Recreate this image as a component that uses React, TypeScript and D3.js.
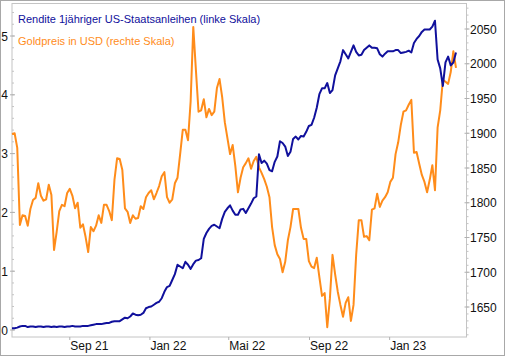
import React from "react";
import * as d3 from "d3";

// ---- data ----
const START_DATE = "2021-06-05";
const STEP_DAYS = 4;

const goldUSD = [
  1899, 1900, 1879, 1768, 1782, 1781, 1767, 1791, 1804, 1807, 1828, 1810, 1803, 1805, 1826, 1811, 1732, 1758, 1788, 1797,
  1795, 1814, 1820, 1810, 1792, 1800, 1764, 1769, 1751, 1729, 1765, 1759, 1767, 1782, 1771, 1797, 1797, 1788, 1775, 1833,
  1864, 1863, 1847, 1792, 1787, 1771, 1782, 1777, 1778, 1795, 1791, 1808, 1814, 1818, 1805, 1814, 1824, 1838, 1844, 1808,
  1800, 1805, 1828, 1836, 1870, 1905, 1905, 1890, 1946, 2053, 1991, 1931, 1933, 1949, 1923, 1935, 1926, 1931, 1965, 1978,
  1952, 1916, 1893, 1870, 1883, 1853, 1815, 1836, 1851, 1857, 1864, 1849, 1860, 1866, 1851, 1843, 1834, 1823, 1808, 1765,
  1739, 1726, 1719, 1700, 1715, 1746, 1765, 1791, 1791, 1791, 1764, 1748, 1748, 1716, 1708, 1706, 1721, 1693, 1666, 1670,
  1621, 1662, 1725, 1697, 1672, 1653, 1636, 1656, 1664, 1630, 1653, 1725, 1775, 1775, 1751, 1752, 1746, 1790, 1792, 1813,
  1794, 1803, 1808, 1815, 1830, 1836, 1870, 1887, 1912, 1931, 1933, 1941, 1948, 1872, 1873, 1856, 1840, 1830, 1815, 1833,
  1854, 1818, 1908, 1933, 1977, 1974, 1971, 1988, 2018, 1994,
];

const yield1Y = [
  0.03, 0.03, 0.04, 0.06, 0.07, 0.07, 0.05, 0.06, 0.06, 0.05, 0.06, 0.06, 0.05, 0.06, 0.06, 0.05, 0.06, 0.05, 0.06, 0.06,
  0.05, 0.06, 0.06, 0.07, 0.06, 0.06, 0.06, 0.07, 0.07, 0.07, 0.08, 0.09, 0.1, 0.1, 0.1, 0.11, 0.12, 0.12, 0.14, 0.15,
  0.15, 0.15, 0.18, 0.21, 0.2, 0.23, 0.28, 0.26, 0.25, 0.26, 0.29, 0.37, 0.39, 0.4, 0.43, 0.46, 0.48, 0.54, 0.65, 0.73,
  0.75, 0.85, 0.95, 1.11, 1.08, 1.05, 1.16, 1.11, 1.04, 1.12, 1.18, 1.19, 1.22, 1.55, 1.65, 1.72, 1.77, 1.79, 1.76, 1.73,
  1.89, 2.01, 2.07, 2.12, 2.03, 1.96, 1.96, 2.05, 2.06, 1.99, 2.07, 2.15, 2.24, 2.27, 2.99, 2.84, 2.88, 2.83, 2.72, 2.7,
  2.86, 2.95, 3.21, 3.18, 3.12, 2.96, 3.03, 3.25, 3.29, 3.24, 3.3, 3.29, 3.37, 3.47, 3.49, 3.61, 3.78, 4.01, 4.11, 4.11,
  4.2, 4.03, 4.08, 4.33, 4.45, 4.57, 4.76, 4.69, 4.62, 4.73, 4.84, 4.73, 4.67, 4.68, 4.76, 4.8, 4.84, 4.8, 4.8, 4.79,
  4.69, 4.65, 4.7, 4.74, 4.74, 4.74, 4.76, 4.76, 4.71, 4.72, 4.73, 4.75, 4.72, 4.88, 4.95, 5.0, 5.07, 5.11, 5.11, 5.11,
  5.16, 5.26, 4.6, 4.45, 4.15, 4.55, 4.65, 4.5, 4.55, 4.72,
];

const xTickDates = ["2021-09-01", "2022-01-01", "2022-05-01", "2022-09-01", "2023-01-01"];
const xTickLabels = ["Sep 21", "Jan 22", "Mai 22", "Sep 22", "Jan 23"];
const leftTicks = [0, 1, 2, 3, 4, 5];
const rightTicks = [1650, 1700, 1750, 1800, 1850, 1900, 1950, 2000, 2050];
const legendLabels = ["Rendite 1jähriger US-Staatsanleihen (linke Skala)", "Goldpreis in USD (rechte Skala)"];

const BLUE = "#10109c";
const ORANGE = "#ff8c1a";
const FONT = "'Liberation Sans', Arial, sans-serif";

export default function App() {
  const W = 506, H = 357;
  const L = 12, R = 466.5, T = 3.5, B = 337;
  const parse = d3.timeParse("%Y-%m-%d");
  const start = parse(START_DATE) as Date;
  const dates = goldUSD.map((_, i) => d3.timeDay.offset(start, i * STEP_DAYS));

  const x = d3.scaleTime().domain([start, parse("2023-04-28") as Date]).range([L, R]);
  const yL = d3.scaleLinear().domain([0, 5]).range([330, 36]);
  const yR = d3.scaleLinear().domain([1650, 2050]).range([307, 29]);

  const goldLine = d3.line<number>().x((_, i) => x(dates[i])).y((d) => yR(d));
  const yieldLine = d3.line<number>().x((_, i) => x(dates[i])).y((d) => yL(d));

  const leftMinor = d3.range(0, 5.6, 0.2).filter((v) => yL(v) > T && yL(v) < B);
  const rightMinor = d3.range(1610, 2090, 10).filter((v) => yR(v) > T && yR(v) < B);

  return (
    <svg width={W} height={H} style={{ position: "absolute", left: 0, top: 0, background: "#fff" }}>
      <rect x={0.5} y={0.5} width={504} height={355} fill="#fff" stroke="#a8a8a8" />
      <rect x={L} y={T} width={R - L} height={B - T} fill="#fff" stroke="#c4c4c4" />
      {/* left axis minor/major ticks */}
      {leftMinor.map((v, i) => (
        <line key={"lm" + i} x1={L} x2={L + 2} y1={yL(v)} y2={yL(v)} stroke="#c4c4c4" />
      ))}
      {leftTicks.map((v) => (
        <g key={"lt" + v}>
          <line x1={L - 2} x2={L + 3} y1={yL(v)} y2={yL(v)} stroke="#b0b0b0" />
          <text x={8} y={yL(v) + 4.5} textAnchor="end" fontFamily={FONT} fontSize={12} fill="#111">
            {v}
          </text>
        </g>
      ))}
      {rightMinor.map((v, i) => (
        <line key={"rm" + i} x1={R} x2={R + 2} y1={yR(v)} y2={yR(v)} stroke="#c4c4c4" />
      ))}
      {rightTicks.map((v) => (
        <g key={"rt" + v}>
          <line x1={R - 2} x2={R + 3} y1={yR(v)} y2={yR(v)} stroke="#b0b0b0" />
          <text x={470} y={yR(v) + 4.5} fontFamily={FONT} fontSize={12} fill="#111">
            {v}
          </text>
        </g>
      ))}
      {xTickDates.map((d, i) => {
        const xx = x(parse(d) as Date);
        return (
          <g key={"xt" + d}>
            <line x1={xx} x2={xx} y1={B} y2={B + 3} stroke="#b0b0b0" />
            <text x={xx + 0.5} y={350} fontFamily={FONT} fontSize={12} fill="#111">
              {xTickLabels[i]}
            </text>
          </g>
        );
      })}
      <path d={goldLine(goldUSD) || ""} fill="none" stroke={ORANGE} strokeWidth={2} strokeLinejoin="round" />
      <path d={yieldLine(yield1Y) || ""} fill="none" stroke={BLUE} strokeWidth={2} strokeLinejoin="round" />
      <text x={18} y={23} fontFamily={FONT} fontSize={11} fill={BLUE}>
        {legendLabels[0]}
      </text>
      <text x={18} y={45} fontFamily={FONT} fontSize={11} fill={ORANGE}>
        {legendLabels[1]}
      </text>
    </svg>
  );
}
